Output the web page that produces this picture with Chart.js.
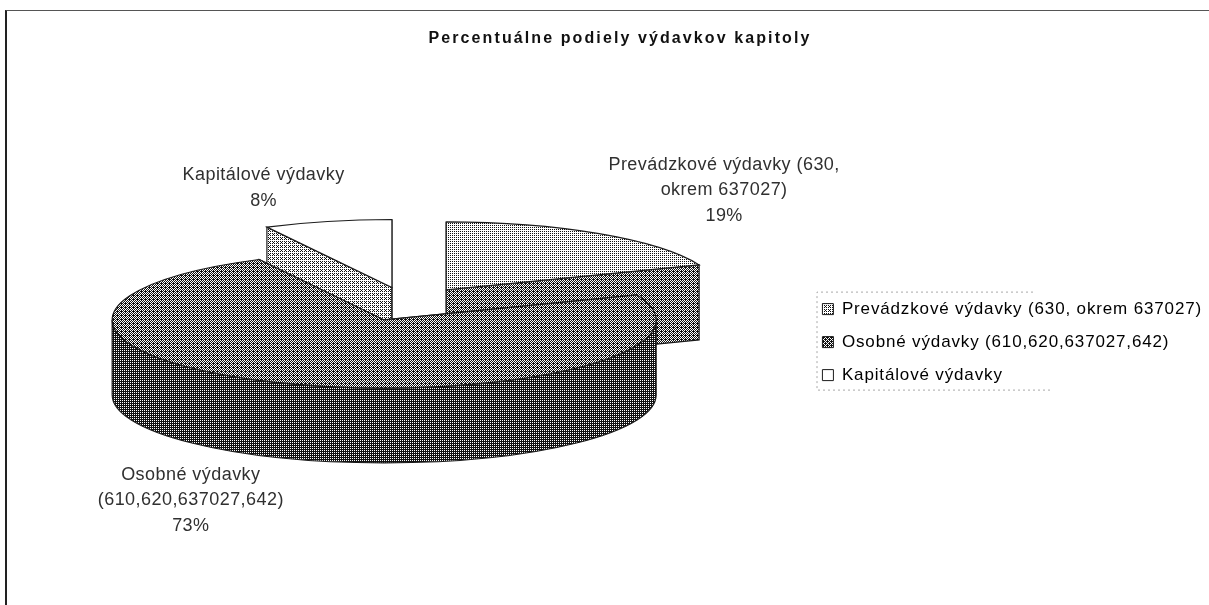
<!DOCTYPE html>
<html lang="sk">
<head>
<meta charset="utf-8">
<title>Percentuálne podiely výdavkov kapitoly</title>
<script src="https://cdn.jsdelivr.net/npm/chart.js@4/dist/chart.umd.min.js"></script>
<style>
    html, body { margin: 0; background: #fff; overflow: hidden; }
    #wrap { position: relative; width: 1209px; height: 605px; }
    #frame { position: absolute; left: 5px; top: 10px; right: -5px; bottom: -5px; border-left: 2px solid #222; border-top: 1px solid #555; pointer-events: none; }
    canvas { display: block; }
</style>
</head>
<body>
<div id="wrap">
    <canvas id="pieChart" width="1209" height="605"></canvas>
    <div id="frame"></div>
</div>
<script>
const categories = ["Prevádzkové výdavky (630, okrem 637027)", "Osobné výdavky (610,620,637027,642)", "Kapitálové výdavky"];
// printed labels are 19 %, 73 %, 8 %; the decimals come from the slice angles in the picture
const shareValues = [19, 73.4, 7.6];
const sliceLabels = [["Prevádzkové výdavky (630,", "okrem 637027)"], ["Osobné výdavky", "(610,620,637027,642)"], ["Kapitálové výdavky"]];

// how the flat pie is laid over to look 3D
const tilt = 0.25;
const pieDepth = 75;
const pieExplode = 272; // Arc draws offset / 4 and also grows by that much
const pieRadius = 272 - pieExplode / 4;
const pieCenter = { x: 408, y: 304 };
const labelShift = [[125, -69], [-98, 91], [-64, -46]];

const textColor = "#303030";
const lineColor = "#1c1c1c";
const fontFamily = '"Liberation Sans", Arial, sans-serif';
const legendSpacing = "0.85px";
const labelSpacing = "0.45px";
const titleSpacing = "2.1px";

// ordered dither so the fills look like the scanned original
const bayer = [0, 8, 2, 10, 12, 4, 14, 6, 3, 11, 1, 9, 15, 7, 13, 5];
function ditherPattern(level) {
    const tile = document.createElement("canvas");
    tile.width = 4;
    tile.height = 4;
    const tileCtx = tile.getContext("2d");
    bayer.forEach((b, i) => {
        tileCtx.fillStyle = (b + 0.5) / 16 < level ? "#ffffff" : "#111111";
        tileCtx.fillRect(i % 4, Math.floor(i / 4), 1, 1);
    });
    return tileCtx.createPattern(tile, "repeat");
}

const baseColors = ["#cfcfcf", "#7a7a7a", "#ffffff"];
const topFills = [0.75, 0.45, 1].map(ditherPattern);
const wallFills = [0.45, 0.22, 0.7].map(ditherPattern);
const legendFills = [0.7, 0.4, 1].map(ditherPattern);

function sliceGeometry(arc) {
    const half = (arc.startAngle + arc.endAngle) / 2;
    const off = arc.options.offset / 4;
    return {
        x: pieCenter.x + Math.cos(half) * off,
        y: pieCenter.y + Math.sin(half) * off * tilt,
        r: arc.outerRadius + off,
        start: arc.startAngle,
        end: arc.endAngle,
        mid: half
    };
}

function rimPoint(g, angle) {
    return [g.x + g.r * Math.cos(angle), g.y + g.r * tilt * Math.sin(angle)];
}

function drawWalls(ctx, g, fill) {
    ctx.fillStyle = fill;
    ctx.strokeStyle = lineColor;
    ctx.lineWidth = 1.2;
    [g.start, g.end].forEach(angle => {
        const p = rimPoint(g, angle);
        ctx.beginPath();
        ctx.moveTo(g.x, g.y);
        ctx.lineTo(p[0], p[1]);
        ctx.lineTo(p[0], p[1] + pieDepth);
        ctx.lineTo(g.x, g.y + pieDepth);
        ctx.closePath();
        ctx.fill();
        ctx.stroke();
    });
    // only the front half of the rim can be seen
    const from = Math.max(g.start, 0);
    const to = Math.min(g.end, Math.PI);
    if (to > from) {
        ctx.beginPath();
        ctx.ellipse(g.x, g.y, g.r, g.r * tilt, 0, from, to);
        ctx.ellipse(g.x, g.y + pieDepth, g.r, g.r * tilt, 0, to, from, true);
        ctx.closePath();
        ctx.fill();
        ctx.stroke();
    }
}

const pie3d = {
    id: "pie3d",
    beforeLayout(chart) {
        // the scan has wide text, measure it that way too
        chart.ctx.letterSpacing = legendSpacing;
    },
    afterLayout(chart) {
        const title = chart.titleBlock;
        const drawTitle = title.draw;
        title.draw = function () {
            chart.ctx.letterSpacing = titleSpacing;
            drawTitle.call(title);
            chart.ctx.letterSpacing = legendSpacing;
        };
    },
    beforeDatasetsDraw(chart) {
        const ctx = chart.ctx;
        const arcs = chart.getDatasetMeta(0).data;
        ctx.save();
        // back slices first, the big front one covers them
        [0, 2, 1].forEach(i => drawWalls(ctx, sliceGeometry(arcs[i]), wallFills[i]));
        ctx.restore();

        ctx.save();
        ctx.translate(pieCenter.x - arcs[0].x, pieCenter.y);
        ctx.scale(1, tilt);
        ctx.translate(0, -arcs[0].y);
    },
    afterDatasetsDraw(chart) {
        const ctx = chart.ctx;
        ctx.restore();
        const arcs = chart.getDatasetMeta(0).data;

        // dither and outline on the slice tops, done here so they are not squashed
        ctx.save();
        ctx.strokeStyle = lineColor;
        ctx.lineWidth = 1.2;
        arcs.forEach((arc, i) => {
            const g = sliceGeometry(arc);
            ctx.beginPath();
            ctx.moveTo(g.x, g.y);
            ctx.ellipse(g.x, g.y, g.r, g.r * tilt, 0, g.start, g.end);
            ctx.closePath();
            ctx.fillStyle = topFills[i];
            ctx.fill();
            ctx.stroke();
        });

        // slice labels
        ctx.fillStyle = textColor;
        ctx.font = "18px " + fontFamily;
        ctx.letterSpacing = labelSpacing;
        ctx.textAlign = "center";
        ctx.textBaseline = "middle";
        arcs.forEach((arc, i) => {
            const g = sliceGeometry(arc);
            const p = rimPoint(g, g.mid);
            const lines = sliceLabels[i].concat(Math.round(shareValues[i]) + "%");
            lines.forEach((line, n) => {
                ctx.fillText(line, p[0] + labelShift[i][0], p[1] + labelShift[i][1] + n * 25.5);
            });
        });

        // what is left of the dotted legend frame
        const legendMid = chart.legend.top + chart.legend.height / 2;
        ctx.strokeStyle = "#a8a8a8";
        ctx.lineWidth = 1;
        ctx.setLineDash([2, 3]);
        ctx.beginPath();
        ctx.moveTo(1033, legendMid - 50);
        ctx.lineTo(817, legendMid - 50);
        ctx.lineTo(817, legendMid + 48);
        ctx.lineTo(1050, legendMid + 48);
        ctx.stroke();
        ctx.restore();
    }
};

new Chart(document.getElementById("pieChart"), {
    type: "pie",
    data: {
        labels: categories,
        datasets: [{
            data: shareValues,
            backgroundColor: baseColors,
            borderWidth: 0,
            offset: pieExplode,
            clip: false
        }]
    },
    options: {
        responsive: false,
        animation: false,
        radius: pieRadius,
        layout: { padding: { left: 28, right: -3 } },
        plugins: {
            title: {
                display: true,
                text: "Percentuálne podiely výdavkov kapitoly",
                color: "#111",
                font: { family: fontFamily, size: 16, weight: "bold" },
                padding: { top: 29, bottom: 31 }
            },
            legend: {
                position: "right",
                fullSize: false,
                labels: {
                    color: textColor,
                    font: { family: fontFamily, size: 17 },
                    boxWidth: 11,
                    boxHeight: 11,
                    padding: 16,
                    generateLabels: () => categories.map((name, i) => ({
                        text: name,
                        fillStyle: legendFills[i],
                        strokeStyle: lineColor,
                        lineWidth: 1,
                        index: i
                    }))
                }
            },
            tooltip: { enabled: false }
        }
    },
    plugins: [pie3d]
});
</script>
</body>
</html>
